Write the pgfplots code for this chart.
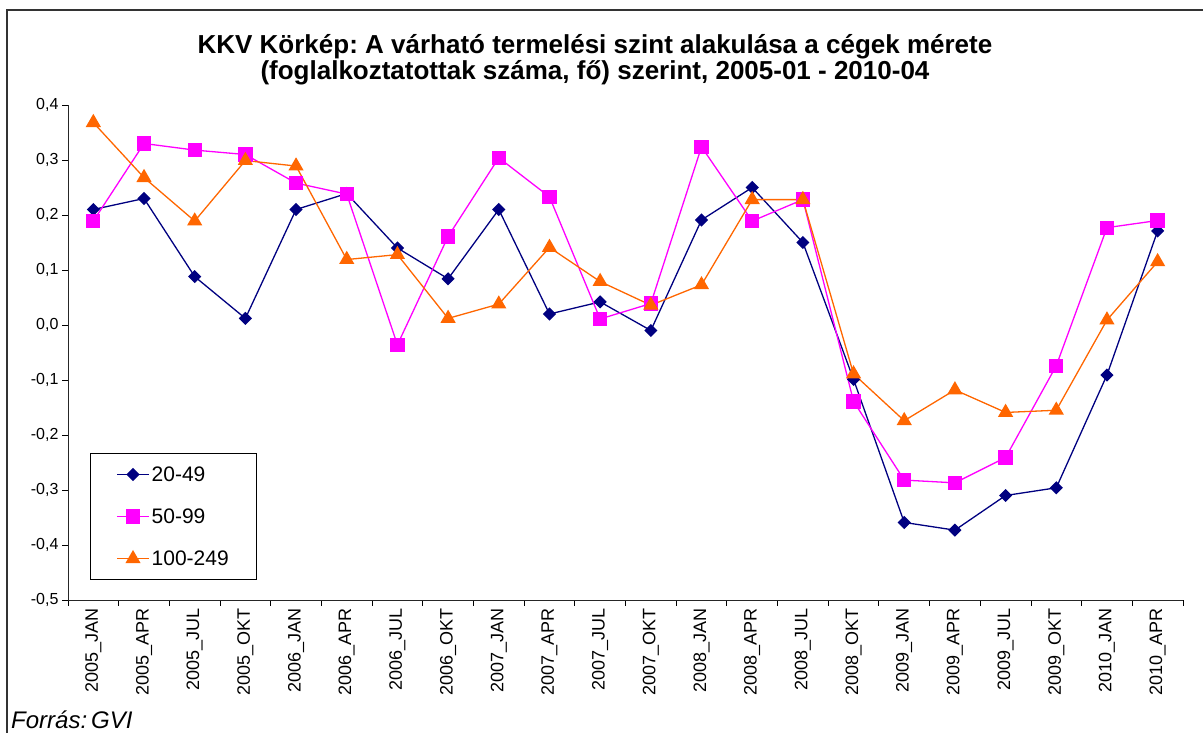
\documentclass[border=0pt]{standalone}
\usepackage{pgfplots}
\pgfplotsset{compat=1.18}
\usepackage{fontspec}
\setmainfont{Liberation Sans}
\frenchspacing
\definecolor{navy}{RGB}{0,0,128}
\definecolor{mag}{RGB}{255,0,255}
\definecolor{org}{RGB}{255,102,0}
\begin{document}
\begin{tikzpicture}[x=1pt,y=1pt]
\useasboundingbox (0,0) rectangle (1203,733);
\draw[line width=1.2pt, black!80] (7,-10) -- (7,723) -- (1215,723);
\node[anchor=base, font=\fontsize{26}{30}\selectfont\bfseries] at (595,679) {KKV Körkép: A várható termelési szint alakulása a cégek mérete};
\node[anchor=base, font=\fontsize{26}{30}\selectfont\bfseries] at (595,653) {(foglalkoztatottak száma, fő) szerint, 2005-01 - 2010-04};
\node[anchor=base west, font=\fontsize{24}{28}\selectfont\itshape, inner sep=0pt] at (11,4) {Forrás:\,GVI};
\begin{axis}[
  at={(68pt,133pt)}, anchor=south west,
  scale only axis, width=1115pt, height=495pt,
  xmin=-0.5, xmax=21.5, ymin=-0.5, ymax=0.4,
  axis x line=bottom, axis y line=left,
  axis line style={-, line width=0.9pt, black!85},
  xtick={0,...,21},
  xticklabels={2005\_JAN,2005\_APR,2005\_JUL,2005\_OKT,2006\_JAN,2006\_APR,2006\_JUL,2006\_OKT,2007\_JAN,2007\_APR,2007\_JUL,2007\_OKT,2008\_JAN,2008\_APR,2008\_JUL,2008\_OKT,2009\_JAN,2009\_APR,2009\_JUL,2009\_OKT,2010\_JAN,2010\_APR},
  x tick label style={rotate=90, anchor=east, font=\fontsize{18}{20}\selectfont, inner sep=2pt},
  major x tick style={draw=none},
  minor xtick={-0.5,0.5,...,21.5},
  minor tick length=6pt,
  ytick={-0.5,-0.4,-0.3,-0.2,-0.1,0,0.1,0.2,0.3,0.4},
  yticklabels={{-0,5},{-0,4},{-0,3},{-0,2},{-0,1},{0,0},{0,1},{0,2},{0,3},{0,4}},
  y tick label style={font=\fontsize{16}{18}\selectfont},
  tick align=outside, major tick length=6pt,
  tick style={black, line width=0.8pt},
  clip=false,
  legend style={at={(0.0197,0.297)}, anchor=north west, draw=black, line width=0.8pt, fill=white,
    font=\fontsize{21}{24}\selectfont, row sep=22pt, inner xsep=26pt, inner ysep=11pt, cells={anchor=west}},
  legend image code/.code={\draw[mark repeat=2,mark phase=2] plot coordinates {(0pt,0pt) (16pt,0pt) (32pt,0pt)};},
  every axis plot/.append style={line width=1.3pt},
]
\addplot[color=navy, mark=square*, mark size=4.0pt, mark options={rotate=45, solid, fill=navy}] coordinates {
(0,0.21) (1,0.23) (2,0.088) (3,0.012) (4,0.21) (5,0.239) (6,0.14) (7,0.084) (8,0.21) (9,0.02) (10,0.042)
(11,-0.010) (12,0.191) (13,0.25) (14,0.150) (15,-0.099) (16,-0.359) (17,-0.373) (18,-0.310) (19,-0.296) (20,-0.091) (21,0.171)};
\addlegendentry{20-49}
\addplot[color=mag, mark=square*, mark size=6.5pt, mark options={solid, fill=mag}] coordinates {
(0,0.189) (1,0.33) (2,0.318) (3,0.31) (4,0.258) (5,0.238) (6,-0.036) (7,0.161) (8,0.304) (9,0.233) (10,0.011)
(11,0.039) (12,0.324) (13,0.189) (14,0.228) (15,-0.139) (16,-0.282) (17,-0.287) (18,-0.241) (19,-0.074) (20,0.177) (21,0.19)};
\addlegendentry{50-99}
\addplot[color=org, mark=triangle*, mark size=7.5pt, mark options={solid, fill=org}] coordinates {
(0,0.368) (1,0.268) (2,0.189) (3,0.299) (4,0.289) (5,0.119) (6,0.128) (7,0.012) (8,0.038) (9,0.141) (10,0.079)
(11,0.036) (12,0.073) (13,0.228) (14,0.228) (15,-0.089) (16,-0.174) (17,-0.118) (18,-0.159) (19,-0.155) (20,0.009) (21,0.115)};
\addlegendentry{100-249}
\end{axis}
\end{tikzpicture}
\end{document}
